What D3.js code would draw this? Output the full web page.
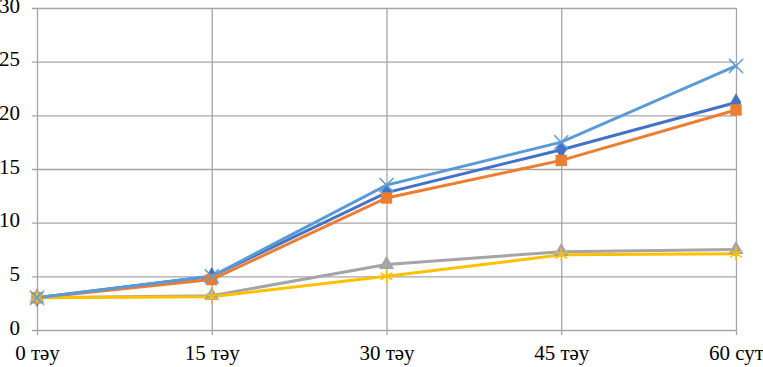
<!DOCTYPE html>
<html>
<head>
<meta charset="utf-8">
<script src="https://cdn.jsdelivr.net/npm/d3@7"></script>
<style>
  body { margin: 0; background: #fff; }
  .tick text { font-family: "Liberation Serif", "DejaVu Serif", "Times New Roman", serif; font-size: 21px; fill: #000; }
</style>
</head>
<body>
<div id="chart"></div>
<script>
// categories and series values
const categories = ["0 тәу", "15 тәу", "30 тәу", "45 тәу", "60 сут"];
const yTicks = [0, 5, 10, 15, 20, 25, 30];
const seriesBlue = [3, 5.0, 12.8, 16.8, 21.2];
const seriesOrange = [3, 4.7, 12.3, 15.8, 20.5];
const seriesGray = [3, 3.2, 6.1, 7.3, 7.5];
const seriesYellow = [3, 3.1, 5.0, 7.0, 7.1];
const seriesLightBlue = [3, 5.0, 13.5, 17.5, 24.6];

const series = [
    { values: seriesBlue, color: "#4472C4", marker: "diamond" },
    { values: seriesOrange, color: "#ED7D31", marker: "square" },
    { values: seriesGray, color: "#A5A5A5", marker: "triangle" },
    { values: seriesYellow, color: "#FFC000", marker: "star" },
    { values: seriesLightBlue, color: "#5B9BD5", marker: "cross" }
];

const totalW = 763, totalH = 367;
const margin = { top: 8, right: 27, bottom: 37, left: 37 };
const width = totalW - margin.left - margin.right;
const height = totalH - margin.top - margin.bottom;

const svg = d3.select("#chart").append("svg")
    .attr("width", totalW)
    .attr("height", totalH)
    .append("g")
    .attr("transform", "translate(" + margin.left + "," + margin.top + ")");

const x = d3.scalePoint()
    .domain(categories)
    .range([0, width]);

const y = d3.scaleLinear()
    .domain([0, 30])
    .range([height, 0]);

// horizontal gridlines + y labels
const yAxis = d3.axisLeft(y)
    .tickValues(yTicks)
    .tickSize(-width - 5)
    .tickPadding(12)
    .tickFormat(d3.format("d"));

svg.append("g")
    .attr("class", "yaxis")
    .attr("transform", "translate(-5,0)")
    .call(yAxis)
    .call(g => g.select(".domain").remove())
    .call(g => g.selectAll(".tick line").attr("stroke", "#a6a6a6").attr("stroke-width", 1.3))
    .call(g => g.selectAll(".tick text").attr("dy", "0.2em"));

// vertical gridlines + x labels
const xAxis = d3.axisBottom(x)
    .tickSize(-height - 5)
    .tickPadding(10);

svg.append("g")
    .attr("class", "xaxis")
    .attr("transform", "translate(0," + (height + 5) + ")")
    .call(xAxis)
    .call(g => g.select(".domain").remove())
    .call(g => g.selectAll(".tick line").attr("stroke", "#a6a6a6").attr("stroke-width", 1.3));

const line = d3.line()
    .x((d, i) => x(categories[i]))
    .y(d => y(d));

series.forEach(s => {
    svg.append("path")
        .datum(s.values)
        .attr("fill", "none")
        .attr("stroke", s.color)
        .attr("stroke-width", 3)
        .attr("d", line);
});

const symbolFor = {
    diamond: d3.symbol().type(d3.symbolDiamond).size(100),
    square: d3.symbol().type(d3.symbolSquare).size(130),
    triangle: d3.symbol().type(d3.symbolTriangle).size(100),
    star: d3.symbol().type(d3.symbolAsterisk).size(130),
    cross: d3.symbol().type(d3.symbolX).size(130)
};

series.forEach(s => {
    const isStroke = s.marker === "star" || s.marker === "cross";
    svg.append("g").selectAll("path")
        .data(s.values)
        .enter()
        .append("path")
        .attr("transform", (d, i) => "translate(" + x(categories[i]) + "," + y(d) + ")")
        .attr("d", symbolFor[s.marker]())
        .attr("fill", isStroke ? "none" : s.color)
        .attr("stroke", s.color)
        .attr("stroke-width", isStroke ? 1.5 : 0);
});
</script>
</body>
</html>
